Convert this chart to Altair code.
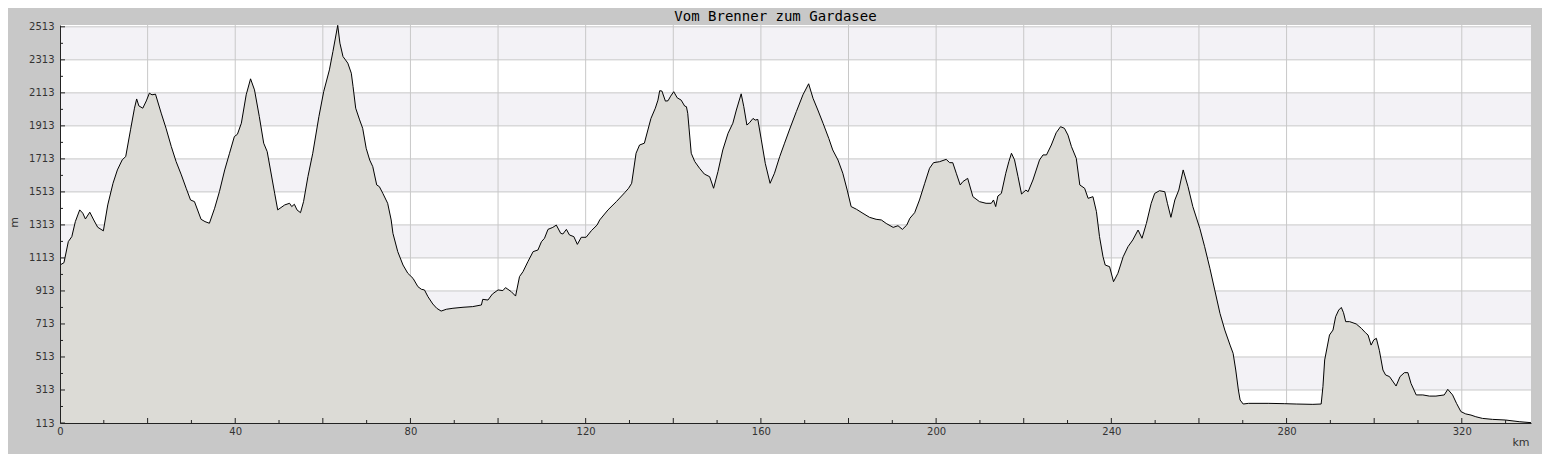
import altair as alt
import pandas as pd

# ---- data ----
km = [0, 0.9, 1.9, 2.7, 3.5, 4.5, 5.2, 5.8, 6.8, 7.7, 8.6, 9.9, 10.9, 12.1, 13.1, 14.2, 15.0, 16.1, 17.0, 17.5,
      18.0, 18.9, 19.7, 20.4, 21.0, 21.8, 23.1, 24.2, 25.4, 26.5, 27.7, 28.8, 29.8, 30.7, 32.2, 33.1, 34.1, 35.3,
      36.4, 37.6, 38.7, 39.8, 40.5, 41.4, 42.5, 43.5, 44.4, 45.5, 46.5, 47.3, 49.0, 49.7, 51.3, 52.4, 52.9, 53.5,
      54.1, 54.9, 55.6, 56.6, 57.7, 59.1, 60.2, 61.5, 62.3, 63.4, 63.9, 64.6, 65.7, 66.5, 66.9, 67.5, 68.4, 69.1,
      69.9, 70.7, 71.4, 72.3, 72.9, 73.7, 74.8, 75.6, 76.0, 77.1, 78.3, 79.4, 80.6, 81.7, 82.5, 83.2, 84.0, 85.1,
      86.0, 87.0, 88.2, 89.7, 92.0, 94.2, 96.2, 96.5, 97.7, 98.7, 100.0, 101.1, 101.7, 103.0, 104.0, 104.9, 105.7,
      106.8, 108.0, 109.1, 109.9, 110.6, 111.4, 112.5, 113.3, 114.3, 114.8, 115.6, 116.3, 117.3, 118.1, 119.0,
      120.1, 121.3, 122.6, 123.2, 125.1, 127.0, 128.9, 129.8, 130.5, 131.5, 132.3, 133.4, 134.2, 134.9, 135.9,
      136.5, 136.9, 137.4, 138.2, 138.8, 139.4, 140.1, 140.9, 141.8, 142.6, 143.0, 143.3, 144.1, 144.9, 146.0,
      147.1, 148.3, 149.2, 150.2, 151.3, 152.5, 153.6, 154.4, 155.5, 156.1, 156.8, 157.4, 158.2, 158.7, 159.3,
      160.1, 161.0, 162.1, 163.1, 164.3, 165.4, 166.5, 168.1, 169.6, 170.9, 171.9, 173.0, 174.2, 175.5, 176.4,
      177.6, 178.7, 179.7, 180.6, 181.8, 183.3, 184.8, 186.3, 187.5, 188.6, 190.2, 191.3, 192.3, 193.3, 194.0,
      195.1, 196.2, 197.4, 198.5, 199.4, 200.8, 202.3, 203.1, 203.8, 204.6, 205.5, 206.1, 207.2, 208.4, 209.9,
      211.4, 212.6, 213.1, 213.6, 214.1, 214.9, 215.9, 216.6, 217.2, 217.9, 218.7, 219.5, 220.5, 221.0, 222.1,
      223.6, 224.4, 225.2, 226.3, 227.4, 228.4, 229.3, 230.1, 230.9, 232.0, 232.8, 233.9, 234.7, 235.8, 236.6,
      237.3, 238.1, 238.6, 239.6, 240.5, 241.5, 242.7, 243.8, 244.9, 246.1, 247.0, 248.0, 249.1, 249.9, 251.0,
      252.2, 252.8, 253.6, 254.5, 255.4, 256.4, 257.5, 258.6, 260.2, 261.3, 262.5, 263.6, 264.8, 265.9, 267.1,
      267.8, 268.4, 269.0, 269.4, 270.1, 271.3, 275.8, 279.6, 282.2, 286.0, 287.9, 288.3, 288.7, 289.8, 290.6,
      291.2, 291.9, 292.5, 293.0, 293.5, 294.4, 295.9, 297.1, 298.0, 298.6, 299.3, 299.9, 300.5, 301.2, 302.0,
      302.6, 303.5, 305.0, 305.9, 306.9, 307.7, 308.4, 309.6, 311.1, 312.6, 314.1, 316.0, 316.8, 317.9, 318.8,
      319.8, 320.9, 322.1, 323.2, 324.7, 327.0, 330.0, 333.1, 335.8]
elev = [1070, 1084, 1212, 1242, 1333, 1404, 1384, 1349, 1390, 1343, 1299, 1277, 1434, 1565, 1646, 1707, 1727, 1889,
        2020, 2076, 2034, 2020, 2064, 2111, 2101, 2105, 1990, 1899, 1788, 1697, 1616, 1535, 1464, 1454, 1347, 1333,
        1323, 1414, 1515, 1646, 1747, 1848, 1862, 1929, 2101, 2198, 2131, 1969, 1808, 1757, 1505, 1404, 1434, 1444,
        1424, 1438, 1404, 1387, 1454, 1606, 1747, 1969, 2121, 2252, 2363, 2522, 2414, 2333, 2293, 2232, 2151, 2020,
        1949, 1898, 1777, 1706, 1666, 1555, 1545, 1504, 1444, 1343, 1262, 1151, 1070, 1020, 989, 939, 923, 919, 878,
        834, 808, 791, 802, 808, 814, 818, 828, 862, 858, 894, 919, 915, 933, 909, 882, 1000, 1030, 1090, 1151, 1161,
        1211, 1232, 1286, 1298, 1312, 1262, 1258, 1286, 1252, 1242, 1195, 1238, 1238, 1278, 1312, 1343, 1404, 1454,
        1508, 1535, 1565, 1747, 1797, 1808, 1888, 1958, 2020, 2069, 2126, 2124, 2063, 2065, 2093, 2120, 2083, 2069,
        2033, 2029, 1989, 1747, 1697, 1656, 1621, 1605, 1535, 1636, 1767, 1868, 1929, 2009, 2107, 2029, 1918, 1932,
        1958, 1948, 1952, 1828, 1686, 1565, 1626, 1727, 1808, 1888, 2000, 2101, 2168, 2080, 2009, 1928, 1837, 1767,
        1706, 1626, 1524, 1424, 1408, 1383, 1359, 1347, 1343, 1322, 1298, 1308, 1286, 1312, 1353, 1387, 1464, 1565,
        1656, 1690, 1696, 1710, 1690, 1690, 1626, 1555, 1575, 1595, 1484, 1454, 1444, 1444, 1464, 1424, 1488, 1504,
        1626, 1696, 1747, 1707, 1605, 1500, 1524, 1514, 1585, 1706, 1737, 1737, 1797, 1871, 1908, 1898, 1857, 1787,
        1716, 1555, 1535, 1474, 1484, 1393, 1242, 1120, 1070, 1060, 969, 1020, 1120, 1181, 1222, 1282, 1232, 1322,
        1444, 1504, 1520, 1514, 1444, 1359, 1464, 1524, 1646, 1545, 1424, 1292, 1181, 1050, 919, 777, 676, 585, 535,
        434, 313, 252, 228, 232, 232, 230, 228, 226, 228, 333, 495, 646, 676, 757, 797, 813, 781, 727, 727, 713, 686,
        660, 646, 585, 616, 626, 551, 434, 404, 394, 337, 394, 418, 418, 353, 283, 283, 276, 276, 283, 317, 283, 232,
        182, 168, 161, 151, 141, 135, 131, 121, 115]

title_text = "Vom Brenner zum Gardasee"
x_title = "km"
y_title = "m"
x_labels = [0, 40, 80, 120, 160, 200, 240, 280, 320]
x_grid = [20, 40, 60, 80, 100, 120, 140, 160, 180, 200, 220, 240, 260, 280, 300, 320]
x_major_ticks = [20, 40, 60, 80, 100, 120, 140, 160, 180, 200, 220, 240, 260, 280, 300, 320]
x_minor_ticks = [10, 30, 50, 70, 90, 110, 130, 150, 170, 190, 210, 230, 250, 270, 290, 310, 330]
y_labels = [113, 313, 513, 713, 913, 1113, 1313, 1513, 1713, 1913, 2113, 2313, 2513]
y_minor_ticks = [213, 413, 613, 813, 1013, 1213, 1413, 1613, 1813, 2013, 2213, 2413]
band_lo = [313, 713, 1113, 1513, 1913, 2313]
band_hi = [513, 913, 1313, 1713, 2113, 2513]

W, H = 1471, 398
xs = alt.Scale(domain=[0, 335.8], nice=False, zero=False)
ys = alt.Scale(domain=[113, 2524], nice=False, zero=False)

x_axis = alt.Axis(
    values=x_labels, ticks=False, tickSize=0, grid=False, domain=True, domainColor="#222222",
    domainWidth=1, labelFont="DejaVu Sans", labelFontSize=10, labelColor="#333333",
    labelPadding=3, labelFlush=False, zindex=2, title=x_title, titleFont="DejaVu Sans",
    titleFontSize=11, titleFontWeight="normal", titleColor="#333333", titleAlign="right",
    titleBaseline="alphabetic", titleX=1469, titleY=22, titleAnchor="end")
y_axis = alt.Axis(
    values=y_labels, format="d", ticks=False, tickSize=0, grid=False, domain=True,
    domainColor="#222222", domainWidth=1, labelFont="DejaVu Sans", labelFontSize=10,
    labelColor="#333333", labelPadding=6, labelFlush=False, zindex=2, title=y_title,
    titleFont="DejaVu Sans", titleFontSize=11, titleFontWeight="normal", titleColor="#333333",
    titleX=-46, titleY=197, titleAngle=-90, titleAlign="center", titleBaseline="middle")

profile = pd.DataFrame({"km": km, "elev": elev})
bands = pd.DataFrame({"lo": band_lo, "hi": band_hi})

band_layer = alt.Chart(bands).mark_rect(color="#f3f2f6").encode(
    y=alt.Y("lo:Q", scale=ys, axis=y_axis), y2="hi:Q",
    x=alt.value(0), x2=alt.value(W))

ygrid = alt.Chart(pd.DataFrame({"v": y_labels[1:]})).mark_rule(color="#c8c8c8", strokeWidth=1).encode(
    y=alt.Y("v:Q", scale=ys, axis=y_axis), x=alt.value(0), x2=alt.value(W))
xgrid = alt.Chart(pd.DataFrame({"v": x_grid})).mark_rule(color="#c8c8c8", strokeWidth=1).encode(
    x=alt.X("v:Q", scale=xs, axis=x_axis), y=alt.value(0), y2=alt.value(H))

area = alt.Chart(profile).mark_area(
    color="#dcdbd6", opacity=1, fillOpacity=1,
    line={"color": "#000000", "strokeWidth": 1}, clip=True
).encode(
    x=alt.X("km:Q", scale=xs, axis=x_axis),
    y=alt.Y("elev:Q", scale=ys, axis=y_axis),
    y2=alt.datum(113),
)

ytick_major = alt.Chart(pd.DataFrame({"v": y_labels})).mark_rule(color="#222222").encode(
    y=alt.Y("v:Q", scale=ys, axis=y_axis), x=alt.value(0), x2=alt.value(5))
ytick_minor = alt.Chart(pd.DataFrame({"v": y_minor_ticks})).mark_rule(color="#222222").encode(
    y=alt.Y("v:Q", scale=ys, axis=y_axis), x=alt.value(0), x2=alt.value(3))
xtick_major = alt.Chart(pd.DataFrame({"v": x_major_ticks})).mark_rule(color="#222222").encode(
    x=alt.X("v:Q", scale=xs, axis=x_axis), y=alt.value(H), y2=alt.value(H - 5))
xtick_minor = alt.Chart(pd.DataFrame({"v": x_minor_ticks})).mark_rule(color="#222222").encode(
    x=alt.X("v:Q", scale=xs, axis=x_axis), y=alt.value(H), y2=alt.value(H - 3))

title_layer = alt.Chart(pd.DataFrame({"t": [title_text]})).mark_text(
    font="DejaVu Sans Mono", fontSize=14, fontWeight="normal", color="#000000",
    align="center", baseline="alphabetic"
).encode(text="t:N", x=alt.value(715.5), y=alt.value(-4))

chart = alt.layer(
    band_layer, ygrid, xgrid, area, ytick_major, ytick_minor, xtick_major, xtick_minor, title_layer
).properties(
    width=W, height=H,
    autosize=alt.AutoSizeParams(type="none"),
    padding={"left": 52, "top": 17, "right": 11, "bottom": 31},
    background="#c8c8c8",
).configure_view(fill="#ffffff", stroke=None)

chart.save("out.html", embed_options={"renderer": "svg", "actions": False})
